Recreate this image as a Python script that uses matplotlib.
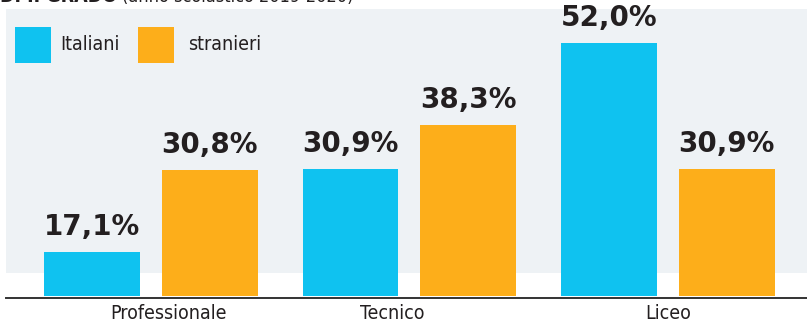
import numpy as np
import matplotlib.pyplot as plt
from matplotlib.patches import Rectangle

categories = ['Professionale', 'Tecnico', 'Liceo']
italiani = [17.1, 30.9, 52.0]
stranieri = [30.8, 38.3, 30.9]
series_names = ['Italiani', 'stranieri']

blue = '#0fc2f0'
orange = '#fdae1a'
panel = '#eef2f5'
ink = '#231f20'

W, H = 807, 324
fig = plt.figure(figsize=(W / 100, H / 100), dpi=100)

# light panel behind the bars
fig.patches.append(Rectangle((6 / W, 1 - 273 / H), 1, 264 / H,
                             transform=fig.transFigure, facecolor=panel,
                             edgecolor='none', zorder=0))

# axes bottom sits on the baseline; the value scale does not start at zero
ax = fig.add_axes([0, 28 / H, 1, 296 / H])
ax.set_zorder(2)
ax.set_facecolor('none')
ax.set_xlim(-0.584, 2.538)
ax.set_ylim(9.77, 59.2)
ax.axis('off')

x = np.arange(len(categories))
bw = 0.371
off = 0.228
b1 = ax.bar(x - off, italiani, bw, color=blue, zorder=2)
b2 = ax.bar(x + off, stranieri, bw, color=orange, zorder=2)

for bars, vals in ((b1, italiani), (b2, stranieri)):
    for r, v in zip(bars, vals):
        ax.annotate(f'{v:.1f}%'.replace('.', ','),
                    (r.get_x() + r.get_width() / 2, v),
                    xytext=(0, 8), textcoords='offset points',
                    ha='center', va='bottom', fontsize=20,
                    fontweight='bold', color=ink, family='DejaVu Sans')

# baseline
fig.add_artist(plt.Line2D([6 / W, 1], [1 - 297.5 / H] * 2,
                          transform=fig.transFigure, color='#333333', lw=1.4,
                          zorder=3))

# category names under the baseline
label_shift = [0.066, -0.066, 0.0]
for xi, name, s in zip(x, categories, label_shift):
    ax.text(xi + s, -0.058, name, transform=ax.get_xaxis_transform(),
            ha='center', va='center', fontsize=14, color=ink,
            fontstretch='condensed', clip_on=False)

# legend
for i, (name, col) in enumerate(zip(series_names, [blue, orange])):
    x0 = 15 + i * 123
    fig.patches.append(Rectangle((x0 / W, 1 - 63 / H), 36 / W, 36 / H,
                                 transform=fig.transFigure, facecolor=col,
                                 edgecolor='none', zorder=3))
    fig.text((x0 + 45 + i * 5) / W, 1 - 45 / H, name, ha='left', va='center',
             fontsize=14, color=ink, fontstretch='condensed', zorder=4)

# heading, mostly cut by the top edge
fig.text(0, 1 - 1.5 / H, 'DI II GRADO', ha='left', va='baseline',
         fontsize=14, fontweight='bold', color=ink, fontstretch='condensed')
fig.text(122 / W, 1 - 1.5 / H, '(anno scolastico 2019-2020)', ha='left',
         va='baseline', fontsize=13, color=ink, fontstretch='condensed')

fig.savefig('out.png', dpi=100)
